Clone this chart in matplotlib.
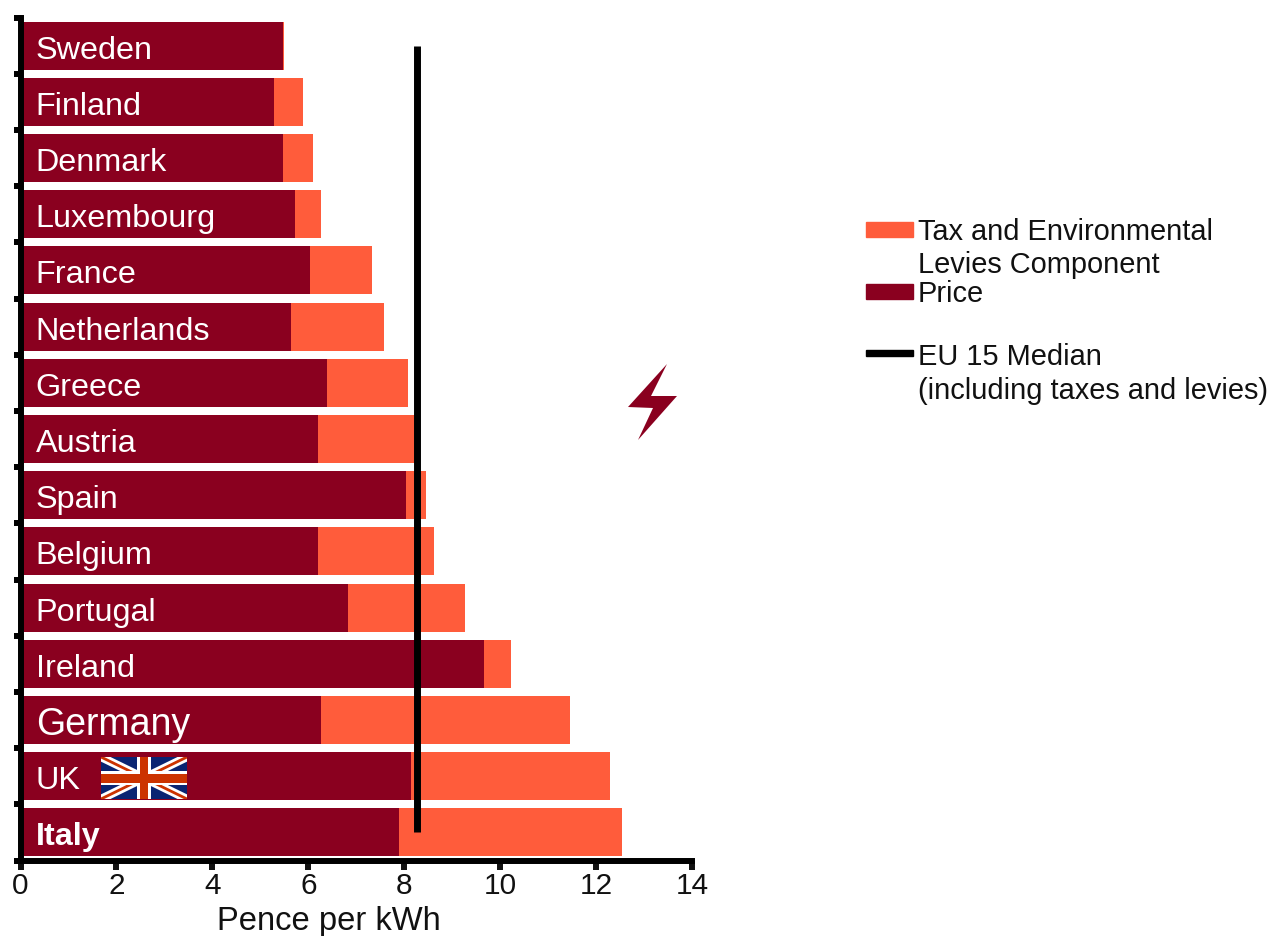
import matplotlib
matplotlib.use('Agg')
import matplotlib.pyplot as plt
from matplotlib.patches import Polygon, Rectangle

plt.rcParams['font.family'] = ['Liberation Sans', 'DejaVu Sans']

countries = ['Sweden', 'Finland', 'Denmark', 'Luxembourg', 'France', 'Netherlands', 'Greece', 'Austria',
             'Spain', 'Belgium', 'Portugal', 'Ireland', 'Germany', 'UK', 'Italy']
price = [5.48, 5.29, 5.48, 5.73, 6.04, 5.63, 6.38, 6.21, 8.04, 6.21, 6.83, 9.67, 6.27, 8.15, 7.90]
tax = [0.02, 0.61, 0.62, 0.54, 1.29, 1.95, 1.70, 2.04, 0.42, 2.42, 2.44, 0.56, 5.19, 4.14, 4.64]
median = 8.27
x_ticks = [0, 2, 4, 6, 8, 10, 12, 14]

dark = '#8A001F'
orange = '#FF5C3B'
W, H = 1270, 937

fig = plt.figure(figsize=(W / 100, H / 100), dpi=100)
ax = fig.add_axes([20.5 / W, 1 - 861.5 / H, 671.5 / W, 843 / H])

pos = list(range(len(countries)))
ax.barh(pos, price, height=0.855, color=dark, zorder=2)
ax.barh(pos, tax, left=price, height=0.855, color=orange, zorder=2)
ax.plot([median, median], [pos[0], pos[-1]], color='black', lw=5, solid_capstyle='butt', zorder=3)

ax.set_xlim(0, 14)
ax.set_ylim(len(countries) - 0.5, -0.5)
ax.set_xticks(x_ticks)
ax.set_yticks([p - 0.5 for p in pos] + [pos[-1] + 0.5])
ax.set_yticklabels([])
ax.tick_params(axis='x', width=4.3, length=6.5, labelsize=21.4, pad=1, colors='#111111')
ax.tick_params(axis='y', width=4.3, length=5, colors='black')
ax.spines['top'].set_visible(False)
ax.spines['right'].set_visible(False)
ax.spines['left'].set_linewidth(4.3)
ax.spines['bottom'].set_linewidth(4.3)
ax.set_xlabel('Pence per kWh', fontsize=23.6, labelpad=4.2, color='#111111', x=(329 - 20.5) / 671.5)

# country names sit inside the bars
for p, name in zip(pos, countries):
    size, weight = 23.3, 'normal'
    if name == 'Germany':
        size = 27
    if name == 'Italy':
        size, weight = 23.3, 'bold'
    ax.text(0.32, p + 0.07, name, color='white', fontsize=size, fontweight=weight, va='center', ha='left', zorder=4)

# overlay in pixel coordinates for legend, bolt and flag
ov = fig.add_axes([0, 0, 1, 1], facecolor='none')
ov.set_xlim(0, W)
ov.set_ylim(H, 0)
ov.axis('off')

ov.add_patch(Rectangle((866, 223), 47, 15, color=orange))
ov.add_patch(Rectangle((866, 285), 47, 15, color=dark))
ov.add_patch(Rectangle((866, 351), 47, 6, color='black'))
legend_lines = [('Tax and Environmental', 232), ('Levies Component', 265), ('Price', 294),
                ('EU 15 Median', 357), ('(including taxes and levies)', 391)]
for line, y in legend_lines:
    ov.text(918, y, line, fontsize=20.9, va='center', ha='left', color='#111111')

# lightning bolt
ov.add_patch(Polygon([(667, 365), (628, 408), (653, 409), (638, 441), (677, 397), (651, 397)], color=dark, lw=0))

# UK flag
fx0, fx1, fy0, fy1 = 101, 187, 758, 800
ov.add_patch(Rectangle((fx0, fy0), fx1 - fx0, fy1 - fy0, color='#0A2472', lw=0, zorder=5))
clip = Rectangle((fx0, fy0), fx1 - fx0, fy1 - fy0, transform=ov.transData)
for (xa, ya, xb, yb) in [(fx0, fy0, fx1, fy1), (fx0, fy1, fx1, fy0)]:
    ln, = ov.plot([xa, xb], [ya, yb], color='white', lw=6, solid_capstyle='butt', zorder=6)
    ln.set_clip_path(clip)
    ln2, = ov.plot([xa, xb], [ya, yb], color='#CC3300', lw=2, solid_capstyle='butt', zorder=7)
    ln2.set_clip_path(clip)
fxm, fym = (fx0 + fx1) / 2, (fy0 + fy1) / 2
ov.add_patch(Rectangle((fxm - 7, fy0), 14, fy1 - fy0, color='white', lw=0, zorder=8))
ov.add_patch(Rectangle((fx0, fym - 7), fx1 - fx0, 14, color='white', lw=0, zorder=8))
ov.add_patch(Rectangle((fxm - 4, fy0), 8, fy1 - fy0, color='#CC3300', lw=0, zorder=9))
ov.add_patch(Rectangle((fx0, fym - 4.5), fx1 - fx0, 9, color='#CC3300', lw=0, zorder=9))

fig.savefig('out.png', dpi=100)
